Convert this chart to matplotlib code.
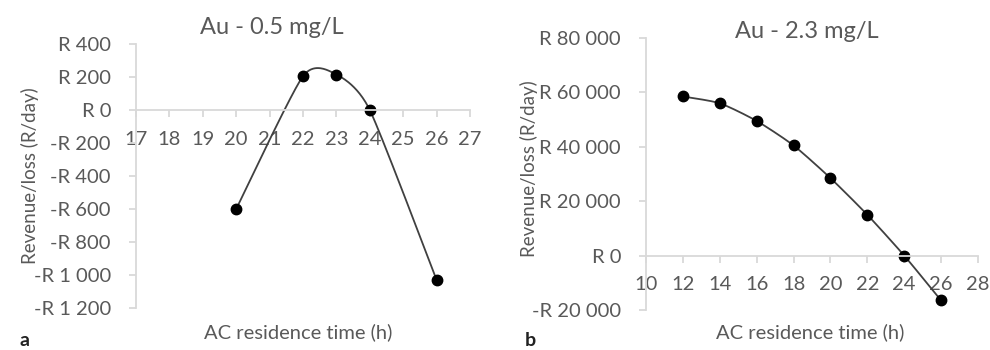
import matplotlib
matplotlib.use("Agg")
import matplotlib.pyplot as plt
import numpy as np
from matplotlib.ticker import FuncFormatter

plt.rcParams['font.family'] = ['Lato', 'DejaVu Sans']

# Daten
time_a = [20, 22, 23, 24, 26]
rev_a = [-600, 205, 215, 0, -1030]

time_b = [12, 14, 16, 18, 20, 22, 24, 26]
rev_b = [58500, 56000, 49500, 40500, 28500, 15000, 0, -16500]

titles = ["Au - 0.5 mg/L", "Au - 2.3 mg/L"]
panel_labels = ["a", "b"]

TXT = "#595959"
AXC = "#d9d9d9"


# geglättete Linie wie in Excel (Bezier durch die Punkte)
def smooth(x, y, f=1 / 9, n=40):
    p = np.column_stack([x, y]).astype(float)
    ext = np.vstack([p[0], p, p[-1]])
    out = []
    for i in range(len(p) - 1):
        p0 = ext[i + 1]
        p3 = ext[i + 2]
        p1 = p0 + (ext[i + 2] - ext[i]) * f
        p2 = p3 - (ext[i + 3] - ext[i + 1]) * f
        t = np.linspace(0, 1, n)[:, None]
        seg = ((1 - t) ** 3) * p0 + 3 * ((1 - t) ** 2) * t * p1 + 3 * (1 - t) * t ** 2 * p2 + t ** 3 * p3
        out.append(seg)
    s = np.vstack(out)
    return s[:, 0], s[:, 1]


def rand_fmt(v, pos):
    v = int(round(v))
    s = f"{abs(v):,}".replace(",", " ")
    return ("-R " if v < 0 else "R ") + s


def style(ax):
    for side in ["top", "right"]:
        ax.spines[side].set_visible(False)
    ax.spines["bottom"].set_position(("data", 0))
    for side in ["left", "bottom"]:
        ax.spines[side].set_color(AXC)
        ax.spines[side].set_linewidth(1.3)
    ax.tick_params(axis="both", colors=AXC, labelcolor=TXT, labelsize=14.5,
                   width=1.3, length=5, direction="out")
    ax.tick_params(axis="y", pad=13)
    ax.tick_params(axis="x", pad=10)
    ax.yaxis.set_major_formatter(FuncFormatter(rand_fmt))
    ax.set_facecolor("none")


fig = plt.figure(figsize=(9.9, 3.5), dpi=100)

# Panel a
ax1 = fig.add_axes([136 / 990, 42 / 350, 334 / 990, 264 / 350])
sx, sy = smooth(time_a, rev_a)
ax1.plot(sx, sy, color="#404040", lw=1.3)
ax1.plot(time_a, rev_a, "o", color="black", ms=7.5)
ax1.set_xlim(17, 27)
ax1.set_ylim(-1200, 400)
ax1.set_xticks(range(17, 28))
ax1.set_yticks(range(-1200, 401, 200))
style(ax1)
ax1.set_ylabel("Revenue/loss (R/day)", fontsize=13.5, color=TXT)
ax1.yaxis.set_label_coords(-0.29, 0.5)

# Panel b
ax2 = fig.add_axes([646 / 990, 40 / 350, 332 / 990, 272 / 350])
sx, sy = smooth(time_b, rev_b)
ax2.plot(sx, sy, color="#404040", lw=1.3)
ax2.plot(time_b, rev_b, "o", color="black", ms=7.5)
ax2.set_xlim(10, 28)
ax2.set_ylim(-20000, 80000)
ax2.set_xticks(range(10, 29, 2))
ax2.set_yticks(range(-20000, 80001, 20000))
style(ax2)
ax2.set_ylabel("Revenue/loss (R/day)", fontsize=13.5, color=TXT)
ax2.yaxis.set_label_coords(-0.325, 0.52)

# Titel, Achsenbeschriftung, Panel-Buchstaben
fig.text(272 / 990, 1 - 27 / 350, titles[0], ha="center", va="center", fontsize=17, color=TXT)
fig.text(807 / 990, 1 - 32 / 350, titles[1], ha="center", va="center", fontsize=17, color=TXT)
fig.text(298 / 990, 1 - 332 / 350, "AC residence time (h)", ha="center", va="center", fontsize=14.5, color=TXT)
fig.text(810 / 990, 1 - 332 / 350, "AC residence time (h)", ha="center", va="center", fontsize=14.5, color=TXT)
fig.text(25 / 990, 1 - 341 / 350, panel_labels[0], ha="center", va="center", fontsize=14, color="#222222", fontweight="bold")
fig.text(530 / 990, 1 - 341 / 350, panel_labels[1], ha="center", va="center", fontsize=14, color="#222222", fontweight="bold")

fig.savefig("out.png", dpi=100)
